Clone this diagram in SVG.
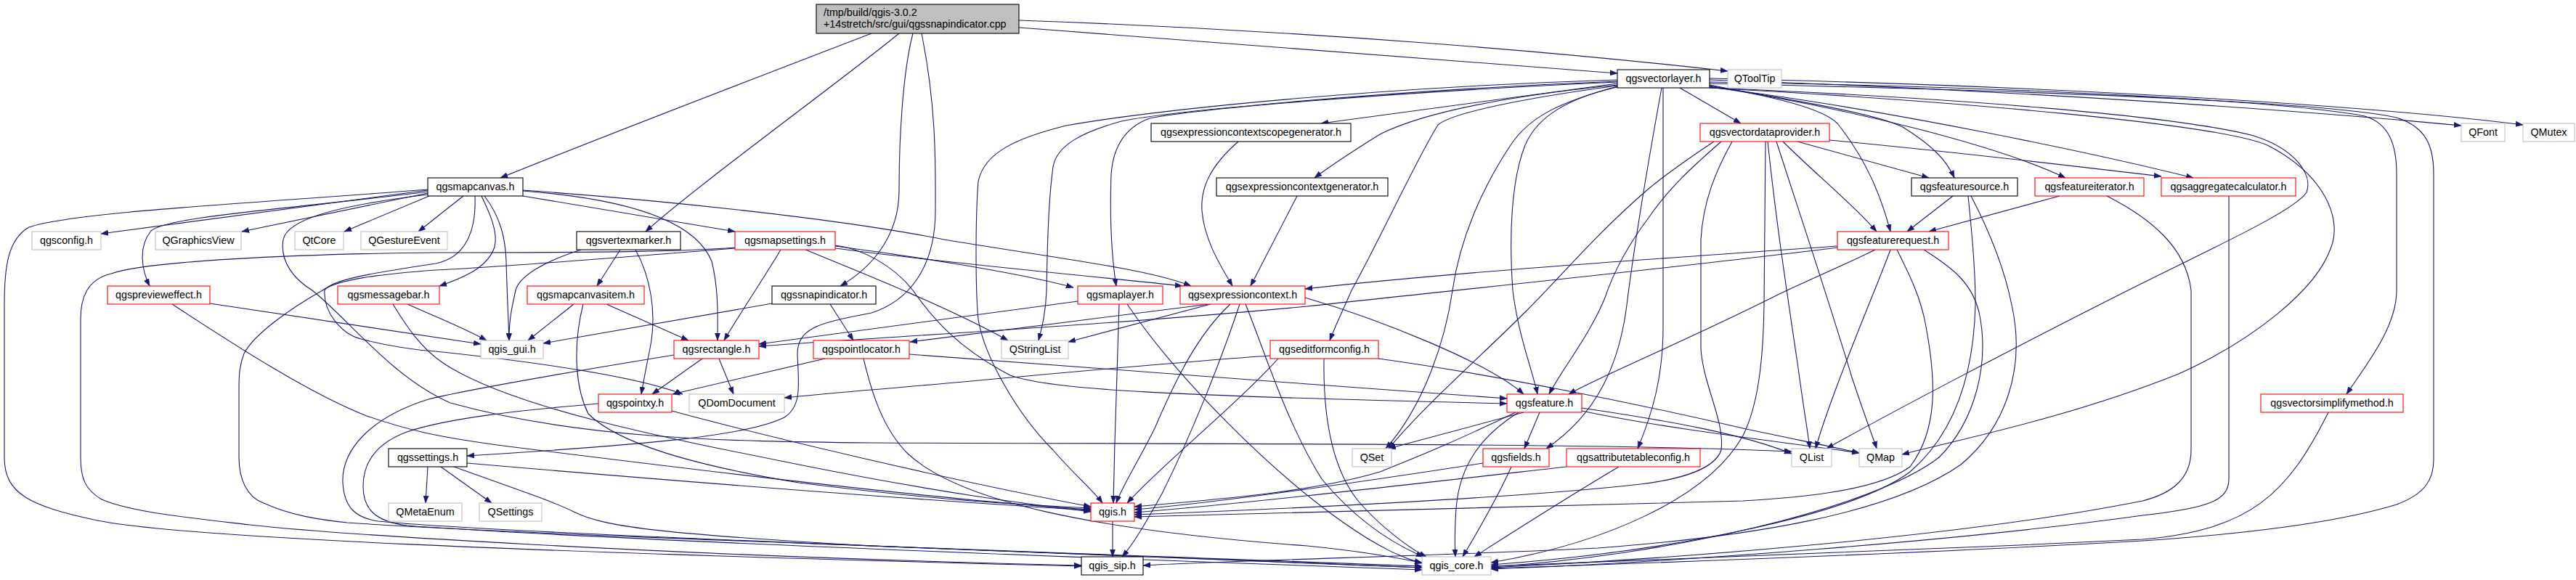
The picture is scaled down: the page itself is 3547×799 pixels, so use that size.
<svg xmlns="http://www.w3.org/2000/svg" width="3547" height="799" viewBox="0 0 3547 799">
<style>
.node rect{stroke-width:1.1}
.b{fill:#fff;stroke:#000}
.r{fill:#fff;stroke:#f00}
.g{fill:#fff;stroke:#bfbfbf}
.rt{fill:#bfbfbf;stroke:#000}
text{font-family:"Liberation Sans",Arial,Helvetica,sans-serif;font-size:14.3px;fill:#000}
.c{text-anchor:middle}
#edges path{fill:none;stroke:#191970;stroke-width:1.1;marker-end:url(#a)}
</style>
<defs>
<marker id="a" markerWidth="11" markerHeight="8" refX="10" refY="4" orient="auto" markerUnits="userSpaceOnUse" viewBox="0 0 11 8"><path d="M0,0.4 L10,4 L0,7.6 z" fill="#191970" stroke="#191970" stroke-width="0.6"/></marker>
</defs>
<rect x="0" y="0" width="3547" height="799" fill="#fff"/>
<g id="edges">
<path d="M1200,46 C1060,100 850,180 689,245"/>
<path d="M1238,46 C1160,110 960,255 889,319"/>
<path d="M1257,46 C1243,100 1238,190 1238,262 C1238,330 1195,372 1157,394"/>
<path d="M1269,46 C1290,150 1288,230 1288,290 C1288,370 1250,415 1200,431 C1130,445 1097,450 1098,490 C1100,530 1104,560 1080,575 C1030,600 900,612 643,628"/>
<path d="M1403,38 C1700,60 2000,85 2227,101"/>
<path d="M1403,28 C1800,42 2150,72 2379,98"/>
<path d="M589,262 L139,322"/>
<path d="M589,266 L333,319"/>
<path d="M591,270 L474,319"/>
<path d="M638,270 L576,319"/>
<path d="M589,264 C400,288 230,298 208,318 C190,340 195,372 206,394"/>
<path d="M589,261 C350,280 100,292 40,313 C10,330 6,370 6,420 L6,630 C6,680 40,697 134,717 C250,740 700,760 1489,780"/>
<path d="M663,270 C675,295 686,320 681,340 C672,368 640,382 605,394"/>
<path d="M667,270 C690,300 696,330 697,360 C698,400 700,440 701,469"/>
<path d="M720,263 C880,275 960,310 980,360 C990,400 988,440 988,469"/>
<path d="M720,270 L1012,319"/>
<path d="M720,262 C900,275 1150,300 1300,330 C1450,355 1580,370 1640,394"/>
<path d="M654,270 C656,320 640,355 600,363 C520,375 455,385 447,400 C445,430 470,460 497,467 C540,478 570,482 600,484 C750,500 880,520 940,543"/>
<path d="M589,268 C450,285 395,305 390,330 C385,360 405,385 430,400 C480,440 540,520 620,555 C800,605 1000,608 1200,610 C1700,612 2200,610 2467,622"/>
<path d="M1150,338 C1185,342 1230,365 1257,400 C1285,440 1320,480 1391,517 C1450,537 1600,545 2075,556"/>
<path d="M1012,341 C950,346 850,348 600,348 C400,350 200,360 153,377 C120,385 111,410 111,440 L111,630 C111,660 118,675 140,688 C180,705 250,712 344,723 C450,735 900,765 1489,779"/>
<path d="M1012,342 C850,355 650,370 600,372 C520,378 465,385 444,400 C400,425 350,460 336,487 C329,505 329,520 329,540 L329,630 C329,660 340,685 363,693 C400,710 440,716 478,720 C700,735 1200,752 1958,780"/>
<path d="M1075,344 C1060,370 1020,430 997,469"/>
<path d="M1109,344 C1160,365 1300,420 1388,469"/>
<path d="M1150,339 C1250,352 1400,375 1478,396"/>
<path d="M1150,342 C1300,362 1500,380 1628,394"/>
<path d="M854,344 L822,394"/>
<path d="M875,344 C895,380 905,430 895,480 C890,505 886,525 883,543"/>
<path d="M800,344 C750,360 715,380 710,400 C703,430 701,445 701,469"/>
<path d="M790,419 L727,469"/>
<path d="M835,419 L948,469"/>
<path d="M803,419 C790,470 790,530 810,570 C850,610 950,640 1100,665 C1300,690 1400,695 1502,700"/>
<path d="M289,418 L662,474"/>
<path d="M237,419 C300,460 420,540 505,573 C560,592 600,602 700,615 C900,640 1300,690 1502,702"/>
<path d="M561,419 C590,432 640,452 670,469"/>
<path d="M541,419 C560,450 580,480 610,500 C700,560 900,600 1100,640 C1300,680 1420,695 1502,705"/>
<path d="M1143,419 L1175,469"/>
<path d="M1063,418 L748,473"/>
<path d="M967,494 L898,543"/>
<path d="M990,494 L1010,543"/>
<path d="M928,489 C800,510 650,535 590,550 C510,575 470,620 472,665 C474,700 490,713 520,718 C700,735 1300,755 1958,782"/>
<path d="M925,566 C1050,600 1300,660 1502,698"/>
<path d="M824,556 C720,565 620,575 560,595 C515,612 500,640 500,670 C500,700 515,718 560,724 C800,742 1400,765 1958,785"/>
<path d="M1136,494 L926,543"/>
<path d="M1252,488 C1500,505 1800,530 2075,549"/>
<path d="M1189,494 C1200,540 1215,590 1250,625 C1320,690 1500,730 1800,752 C1880,760 1920,768 1958,775"/>
<path d="M1484,415 C1300,440 1150,460 1045,474"/>
<path d="M1541,419 C1538,500 1535,600 1533,693"/>
<path d="M1552,419 C1620,520 1750,650 1850,720 C1900,755 1930,768 1958,776"/>
<path d="M1665,419 L1253,471"/>
<path d="M1667,419 L1471,471"/>
<path d="M1694,419 C1650,460 1620,520 1590,590 C1565,640 1545,670 1537,693"/>
<path d="M1707,419 C1680,500 1640,600 1600,680 C1575,725 1560,750 1545,767"/>
<path d="M1715,419 C1740,480 1770,580 1820,660 C1870,720 1920,750 1960,767"/>
<path d="M1797,410 C1900,440 2050,500 2098,543"/>
<path d="M1786,270 L1722,394"/>
<path d="M1705,195 C1665,230 1653,260 1655,290 C1658,330 1680,365 1697,394"/>
<path d="M1749,490 C1600,500 1400,520 1200,537 C1150,541 1110,545 1080,548"/>
<path d="M1760,494 C1700,560 1600,640 1552,693"/>
<path d="M1823,494 C1822,560 1830,640 1870,690 C1900,725 1940,755 1964,767"/>
<path d="M1898,494 C2050,515 2250,555 2400,590 C2480,607 2530,617 2560,624"/>
<path d="M2098,568 L1912,618"/>
<path d="M2120,568 L2099,618"/>
<path d="M2087,568 C2000,610 1950,630 1900,650 C1800,680 1650,690 1562,698"/>
<path d="M2091,568 C2040,600 2010,640 2005,700 C2003,730 2003,750 2004,767"/>
<path d="M2178,562 C2300,580 2400,598 2467,625"/>
<path d="M2178,566 C2300,592 2480,612 2560,624"/>
<path d="M2042,638 C1900,660 1700,690 1562,702"/>
<path d="M2081,643 C2060,690 2030,740 2014,767"/>
<path d="M2157,643 C1900,672 1700,695 1562,706"/>
<path d="M2229,643 C2150,690 2080,735 2030,767"/>
<path d="M3206,568 C3150,680 3100,730 2950,743 C2600,760 2200,775 2053,780"/>
<path d="M2227,115 L1819,170"/>
<path d="M2227,117 C2050,135 1950,160 1900,185 C1860,210 1830,230 1810,245"/>
<path d="M2227,110 C1900,120 1600,150 1468,173 C1400,190 1355,210 1347,250 C1343,300 1343,400 1347,440 C1355,490 1400,570 1450,620 C1480,655 1505,675 1518,693"/>
<path d="M2227,112 C1900,125 1600,155 1544,167 C1490,182 1455,200 1450,230 C1443,280 1442,350 1441,400 C1440,430 1435,450 1430,469"/>
<path d="M2227,113 C1900,128 1650,150 1583,163 C1550,175 1533,200 1530,240 C1528,300 1530,350 1537,394"/>
<path d="M2227,118 C2100,135 2000,155 1980,172 C1950,220 1900,330 1861,400 C1848,430 1838,450 1831,469"/>
<path d="M2227,119 C2150,140 2106,160 2080,200 C2040,260 2010,330 2000,400 C1990,470 1960,560 1908,618"/>
<path d="M2227,120 C2160,135 2117,160 2100,200 C2080,250 2078,330 2083,400 C2090,460 2110,510 2117,543"/>
<path d="M2290,121 L2290,450 C2290,520 2275,570 2255,618"/>
<path d="M2313,121 L2397,170"/>
<path d="M2288,121 C2270,220 2250,340 2240,420 C2230,500 2200,570 2129,618"/>
<path d="M2354,118 C2450,135 2580,155 2620,175 C2660,200 2680,220 2691,245"/>
<path d="M2354,119 C2550,150 2750,200 2844,245"/>
<path d="M2354,120 C2600,150 2900,215 3020,245"/>
<path d="M2354,117 C2450,135 2510,150 2530,170 C2570,220 2590,270 2603,319"/>
<path d="M2354,110 C2800,125 3200,155 3389,173"/>
<path d="M2354,108 C2900,120 3300,150 3474,172"/>
<path d="M2354,113 C2800,120 3150,140 3256,160 C3290,170 3300,200 3300,240 L3300,400 C3300,450 3260,500 3231,543"/>
<path d="M2354,115 C2800,125 3200,140 3300,162 C3340,175 3351,200 3351,240 L3351,633 C3351,660 3340,680 3300,695 C3218,720 3100,735 2950,745 C2600,765 2200,778 2053,783"/>
<path d="M2354,121 C2700,135 3000,160 3103,187 C3160,205 3185,240 3176,265 C3160,290 3050,340 2950,390 C2800,465 2600,570 2515,618"/>
<path d="M2354,121 C2700,140 3050,170 3122,200 C3200,240 3225,300 3210,340 C3190,400 3100,470 3000,515 C2850,575 2700,605 2619,626"/>
<path d="M2360,195 C2330,215 2300,235 2270,260 C2200,320 2150,380 2100,430 C2040,490 1960,560 1912,618"/>
<path d="M2370,195 C2330,230 2297,260 2270,300 C2240,340 2220,380 2210,410 C2190,460 2150,510 2133,543"/>
<path d="M2385,195 C2360,240 2345,280 2342,330 L2342,480 C2345,530 2375,580 2370,620 C2360,650 2300,662 2259,667 C2100,685 1800,700 1562,709"/>
<path d="M2431,195 L2429,420 C2428,500 2420,560 2400,600 C2350,690 2200,750 2053,775"/>
<path d="M2434,195 C2445,300 2460,400 2475,500 C2483,560 2490,600 2492,618"/>
<path d="M2446,195 C2480,300 2520,420 2550,520 C2570,580 2580,605 2584,618"/>
<path d="M2455,195 C2500,240 2550,280 2584,319"/>
<path d="M2475,195 L2656,245"/>
<path d="M2519,193 C2700,210 2850,228 2976,243"/>
<path d="M2689,270 L2626,319"/>
<path d="M2710,270 C2715,320 2720,370 2720,420 C2718,500 2700,590 2630,650 C2550,710 2300,760 2053,778"/>
<path d="M2714,270 C2740,320 2760,370 2770,420 C2790,510 2760,590 2700,640 C2600,710 2400,740 2200,755 C2000,765 1700,772 1574,779"/>
<path d="M2836,270 L2656,319"/>
<path d="M2901,270 C2960,300 3010,340 3017,400 L3017,620 C3017,660 2990,680 2950,690 C2700,740 2300,770 2053,782"/>
<path d="M3069,270 L3069,660 C3069,690 3040,700 2950,710 C2700,745 2300,775 2053,784"/>
<path d="M2530,339 C2300,355 2000,375 1797,398"/>
<path d="M2530,341 C2300,370 2000,400 1800,422 C1500,450 1200,465 1045,477"/>
<path d="M2582,344 C2540,365 2480,390 2440,410 C2320,470 2200,520 2160,543"/>
<path d="M2603,344 C2590,380 2560,450 2530,530 C2515,570 2505,600 2500,618"/>
<path d="M2612,344 C2630,380 2645,410 2652,450 C2665,520 2670,590 2630,643 C2580,680 2450,687 2400,690 C2100,700 1800,707 1562,712"/>
<path d="M2649,344 C2690,370 2715,390 2725,430 C2740,500 2720,580 2670,630 C2580,700 2300,765 2053,781"/>
<path d="M1532,718 L1532,767"/>
<path d="M589,643 L586,693"/>
<path d="M607,643 L677,693"/>
<path d="M643,638 C900,660 1200,685 1502,703"/>
<path d="M625,643 C700,670 760,690 790,705 C830,725 900,735 1200,752 C1500,765 1800,775 1958,782"/>
</g>
<g id="n_root" class="node"><rect class="rt" x="1124" y="6" width="279" height="40"/><text x="1134" y="22">/tmp/build/qgis-3.0.2</text><text x="1134" y="38">+14stretch/src/gui/qgssnapindicator.cpp</text></g>
<g id="n_qgsvectorlayer" class="node"><rect class="b" x="2227" y="96" width="127" height="25"/><text class="c" x="2290.5" y="113">qgsvectorlayer.h</text></g>
<g id="n_QToolTip" class="node"><rect class="g" x="2379" y="96" width="74" height="25"/><text class="c" x="2416" y="113">QToolTip</text></g>
<g id="n_qgsexpressioncontextscopegenerator" class="node"><rect class="b" x="1585" y="170" width="275" height="25"/><text class="c" x="1722.5" y="187">qgsexpressioncontextscopegenerator.h</text></g>
<g id="n_qgsvectordataprovider" class="node"><rect class="r" x="2341" y="170" width="178" height="25"/><text class="c" x="2430" y="187">qgsvectordataprovider.h</text></g>
<g id="n_QFont" class="node"><rect class="g" x="3389" y="170" width="60" height="25"/><text class="c" x="3419" y="187">QFont</text></g>
<g id="n_QMutex" class="node"><rect class="g" x="3474" y="170" width="71" height="25"/><text class="c" x="3509.5" y="187">QMutex</text></g>
<g id="n_qgsmapcanvas" class="node"><rect class="b" x="589" y="245" width="131" height="25"/><text class="c" x="654.5" y="262">qgsmapcanvas.h</text></g>
<g id="n_qgsexpressioncontextgenerator" class="node"><rect class="b" x="1675" y="245" width="236" height="25"/><text class="c" x="1793" y="262">qgsexpressioncontextgenerator.h</text></g>
<g id="n_qgsfeaturesource" class="node"><rect class="b" x="2632" y="245" width="146" height="25"/><text class="c" x="2705" y="262">qgsfeaturesource.h</text></g>
<g id="n_qgsfeatureiterator" class="node"><rect class="r" x="2802" y="245" width="150" height="25"/><text class="c" x="2877" y="262">qgsfeatureiterator.h</text></g>
<g id="n_qgsaggregatecalculator" class="node"><rect class="r" x="2976" y="245" width="185" height="25"/><text class="c" x="3068.5" y="262">qgsaggregatecalculator.h</text></g>
<g id="n_qgsconfig" class="node"><rect class="g" x="44" y="319" width="95" height="25"/><text class="c" x="91.5" y="336">qgsconfig.h</text></g>
<g id="n_QGraphicsView" class="node"><rect class="g" x="214" y="319" width="118" height="25"/><text class="c" x="273" y="336">QGraphicsView</text></g>
<g id="n_QtCore" class="node"><rect class="g" x="406" y="319" width="67" height="25"/><text class="c" x="439.5" y="336">QtCore</text></g>
<g id="n_QGestureEvent" class="node"><rect class="g" x="497" y="319" width="119" height="25"/><text class="c" x="556.5" y="336">QGestureEvent</text></g>
<g id="n_qgsvertexmarker" class="node"><rect class="b" x="794" y="319" width="143" height="25"/><text class="c" x="865.5" y="336">qgsvertexmarker.h</text></g>
<g id="n_qgsmapsettings" class="node"><rect class="r" x="1012" y="319" width="138" height="25"/><text class="c" x="1081" y="336">qgsmapsettings.h</text></g>
<g id="n_qgsfeaturerequest" class="node"><rect class="r" x="2530" y="319" width="153" height="25"/><text class="c" x="2606.5" y="336">qgsfeaturerequest.h</text></g>
<g id="n_qgsprevieweffect" class="node"><rect class="r" x="148" y="394" width="141" height="25"/><text class="c" x="218.5" y="411">qgsprevieweffect.h</text></g>
<g id="n_qgsmessagebar" class="node"><rect class="r" x="465" y="394" width="140" height="25"/><text class="c" x="535" y="411">qgsmessagebar.h</text></g>
<g id="n_qgsmapcanvasitem" class="node"><rect class="r" x="726" y="394" width="161" height="25"/><text class="c" x="806.5" y="411">qgsmapcanvasitem.h</text></g>
<g id="n_qgssnapindicator" class="node"><rect class="b" x="1063" y="394" width="143" height="25"/><text class="c" x="1134.5" y="411">qgssnapindicator.h</text></g>
<g id="n_qgsmaplayer" class="node"><rect class="r" x="1484" y="394" width="117" height="25"/><text class="c" x="1542.5" y="411">qgsmaplayer.h</text></g>
<g id="n_qgsexpressioncontext" class="node"><rect class="r" x="1625" y="394" width="172" height="25"/><text class="c" x="1711" y="411">qgsexpressioncontext.h</text></g>
<g id="n_qgis_gui" class="node"><rect class="g" x="662" y="469" width="86" height="25"/><text class="c" x="705" y="486">qgis_gui.h</text></g>
<g id="n_qgsrectangle" class="node"><rect class="r" x="928" y="469" width="117" height="25"/><text class="c" x="986.5" y="486">qgsrectangle.h</text></g>
<g id="n_qgspointlocator" class="node"><rect class="r" x="1120" y="469" width="132" height="25"/><text class="c" x="1186" y="486">qgspointlocator.h</text></g>
<g id="n_QStringList" class="node"><rect class="g" x="1379" y="469" width="92" height="25"/><text class="c" x="1425" y="486">QStringList</text></g>
<g id="n_qgseditformconfig" class="node"><rect class="r" x="1749" y="469" width="149" height="25"/><text class="c" x="1823.5" y="486">qgseditformconfig.h</text></g>
<g id="n_qgspointxy" class="node"><rect class="r" x="824" y="543" width="101" height="25"/><text class="c" x="874.5" y="560">qgspointxy.h</text></g>
<g id="n_QDomDocument" class="node"><rect class="g" x="949" y="543" width="131" height="25"/><text class="c" x="1014.5" y="560">QDomDocument</text></g>
<g id="n_qgsfeature" class="node"><rect class="r" x="2075" y="543" width="103" height="25"/><text class="c" x="2126.5" y="560">qgsfeature.h</text></g>
<g id="n_qgsvectorsimplifymethod" class="node"><rect class="r" x="3113" y="543" width="196" height="25"/><text class="c" x="3211" y="560">qgsvectorsimplifymethod.h</text></g>
<g id="n_qgssettings" class="node"><rect class="b" x="535" y="618" width="108" height="25"/><text class="c" x="589" y="635">qgssettings.h</text></g>
<g id="n_QSet" class="node"><rect class="g" x="1862" y="618" width="54" height="25"/><text class="c" x="1889" y="635">QSet</text></g>
<g id="n_qgsfields" class="node"><rect class="r" x="2042" y="618" width="91" height="25"/><text class="c" x="2087.5" y="635">qgsfields.h</text></g>
<g id="n_qgsattributetableconfig" class="node"><rect class="r" x="2157" y="618" width="184" height="25"/><text class="c" x="2249" y="635">qgsattributetableconfig.h</text></g>
<g id="n_QList" class="node"><rect class="g" x="2467" y="618" width="55" height="25"/><text class="c" x="2494.5" y="635">QList</text></g>
<g id="n_QMap" class="node"><rect class="g" x="2560" y="618" width="59" height="25"/><text class="c" x="2589.5" y="635">QMap</text></g>
<g id="n_QMetaEnum" class="node"><rect class="g" x="535" y="693" width="101" height="25"/><text class="c" x="585.5" y="710">QMetaEnum</text></g>
<g id="n_QSettings" class="node"><rect class="g" x="660" y="693" width="86" height="25"/><text class="c" x="703" y="710">QSettings</text></g>
<g id="n_qgis" class="node"><rect class="r" x="1502" y="693" width="60" height="25"/><text class="c" x="1532" y="710">qgis.h</text></g>
<g id="n_qgis_sip" class="node"><rect class="b" x="1489" y="767" width="85" height="25"/><text class="c" x="1531.5" y="784">qgis_sip.h</text></g>
<g id="n_qgis_core" class="node"><rect class="g" x="1958" y="767" width="95" height="25"/><text class="c" x="2005.5" y="784">qgis_core.h</text></g>
</svg>
